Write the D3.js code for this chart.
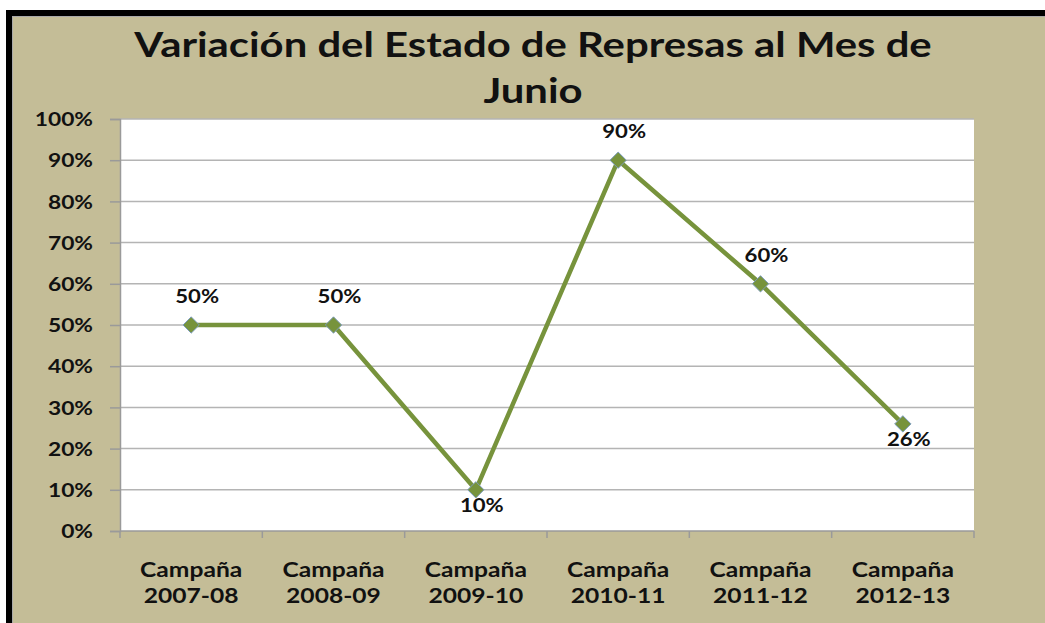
<!DOCTYPE html>
<html><head><meta charset="utf-8">
<script src="https://cdn.jsdelivr.net/npm/d3@7"></script>
<style>html,body{margin:0;padding:0;background:#fff;} svg{display:block;}</style>
</head><body>
<svg id="c" width="1045" height="623"></svg>
<script>
const titleLines = ["Variación del Estado de Represas al Mes de", "Junio"];
const categories = ["Campaña 2007-08","Campaña 2008-09","Campaña 2009-10","Campaña 2010-11","Campaña 2011-12","Campaña 2012-13"];
const values = [50, 50, 10, 90, 60, 26];
const labelPlacement = ["above","above","below","above","above","below"];
const yTicks = [0,10,20,30,40,50,60,70,80,90,100];

const W = 1045, H = 623;
const svg = d3.select("#c");
const FONT = "Lato, 'Open Sans', sans-serif";
const STRETCH = 1.23;

// frame
svg.append("rect").attr("x",0).attr("y",0).attr("width",W).attr("height",H).attr("fill","#fff");
svg.append("rect").attr("x",6).attr("y",10).attr("width",W-6).attr("height",H-10).attr("fill","#000");
svg.append("rect").attr("x",12).attr("y",16).attr("width",W-12).attr("height",H-16).attr("fill","#a9a9a9");
svg.append("rect").attr("x",13).attr("y",17).attr("width",W-13).attr("height",H-17).attr("fill","#c4bd97");

const m = {l:120, t:119, r:974, b:531};
const x = d3.scaleBand().domain(categories).range([m.l, m.r]);
const y = d3.scaleLinear().domain([0,100]).range([m.b, m.t]);

svg.append("rect").attr("x",m.l).attr("y",m.t).attr("width",m.r-m.l).attr("height",m.b-m.t).attr("fill","#fff");

// gridlines
svg.append("g").selectAll("line").data(yTicks.filter(d=>d>0)).join("line")
  .attr("x1",m.l).attr("x2",m.r).attr("y1",d=>y(d)).attr("y2",d=>y(d))
  .attr("stroke","#b4b4b4").attr("stroke-width",1.5);

// y axis
const yAxis = d3.axisLeft(y).tickValues(yTicks).tickFormat(d=>d+"%").tickSize(10).tickPadding(17);
const gy = svg.append("g").attr("transform",`translate(${m.l},0)`).call(yAxis);
gy.select(".domain").attr("stroke","#9a9a9a").attr("stroke-width",1.5);
gy.selectAll(".tick line").attr("stroke","#9a9a9a").attr("stroke-width",1.5);
gy.selectAll(".tick text").attr("class","st").attr("font-family",FONT).attr("font-weight","bold").attr("font-size",18.5).attr("fill","#111").attr("dy","0.36em");

// x axis
const gx = svg.append("g").attr("transform",`translate(0,${m.b})`);
gx.append("line").attr("x1",m.l).attr("x2",m.r).attr("stroke","#9a9a9a").attr("stroke-width",1.5);
const bounds = categories.map(c=>x(c)).concat([m.r]);
gx.selectAll("line.tk").data(bounds).join("line").attr("class","tk")
  .attr("x1",d=>d).attr("x2",d=>d).attr("y1",0).attr("y2",7).attr("stroke","#9a9a9a").attr("stroke-width",1.5);
const cx = c => x(c) + x.bandwidth()/2;
const catT = gx.selectAll("text.cat").data(categories).join("text").attr("class","cat")
  .attr("font-family",FONT).attr("font-weight","bold").attr("font-size",20).attr("fill","#111")
  .attr("text-anchor","middle");
catT.each(function(d){
  const parts = d.split(" ");
  const t = d3.select(this);
  t.append("tspan").attr("class","st").attr("x",cx(d)).attr("y",46).text(parts[0]);
  t.append("tspan").attr("class","st").attr("x",cx(d)).attr("y",72).text(parts[1]);
});

// line
const line = d3.line().x((d,i)=>cx(categories[i])).y(d=>y(d));
svg.append("path").datum(values).attr("d",line).attr("fill","none")
  .attr("stroke","#77933c").attr("stroke-width",4.5).attr("stroke-linejoin","round");

// markers
svg.append("g").selectAll("path").data(values).join("path")
  .attr("transform",(d,i)=>`translate(${cx(categories[i])},${y(d)})`)
  .attr("d",d3.symbol().type(d3.symbolDiamond2).size(170)())
  .attr("fill","#77933c").attr("stroke","#7c9cbc").attr("stroke-width",1);

// labels
svg.append("g").selectAll("text").data(values).join("text").attr("class","st")
  .attr("x",(d,i)=>cx(categories[i])+6)
  .attr("y",(d,i)=>y(d)+(labelPlacement[i]==="above"?-22:22))
  .attr("text-anchor","middle").attr("font-family",FONT).attr("font-weight","bold")
  .attr("font-size",18).attr("fill","#111").text(d=>d+"%");

// title
svg.append("g").selectAll("text").data(titleLines).join("text").attr("class","st")
  .attr("x",533).attr("y",(d,i)=>57+i*46).attr("text-anchor","middle")
  .attr("font-family",FONT).attr("font-weight","bold").attr("font-size",34).attr("fill","#111")
  .text(d=>d);

// widen glyphs to match the horizontally stretched original
svg.selectAll(".st").each(function(){
  const n = this;
  const w = n.getComputedTextLength();
  d3.select(n).attr("textLength", w*STRETCH).attr("lengthAdjust","spacingAndGlyphs");
});
</script>
</body></html>
